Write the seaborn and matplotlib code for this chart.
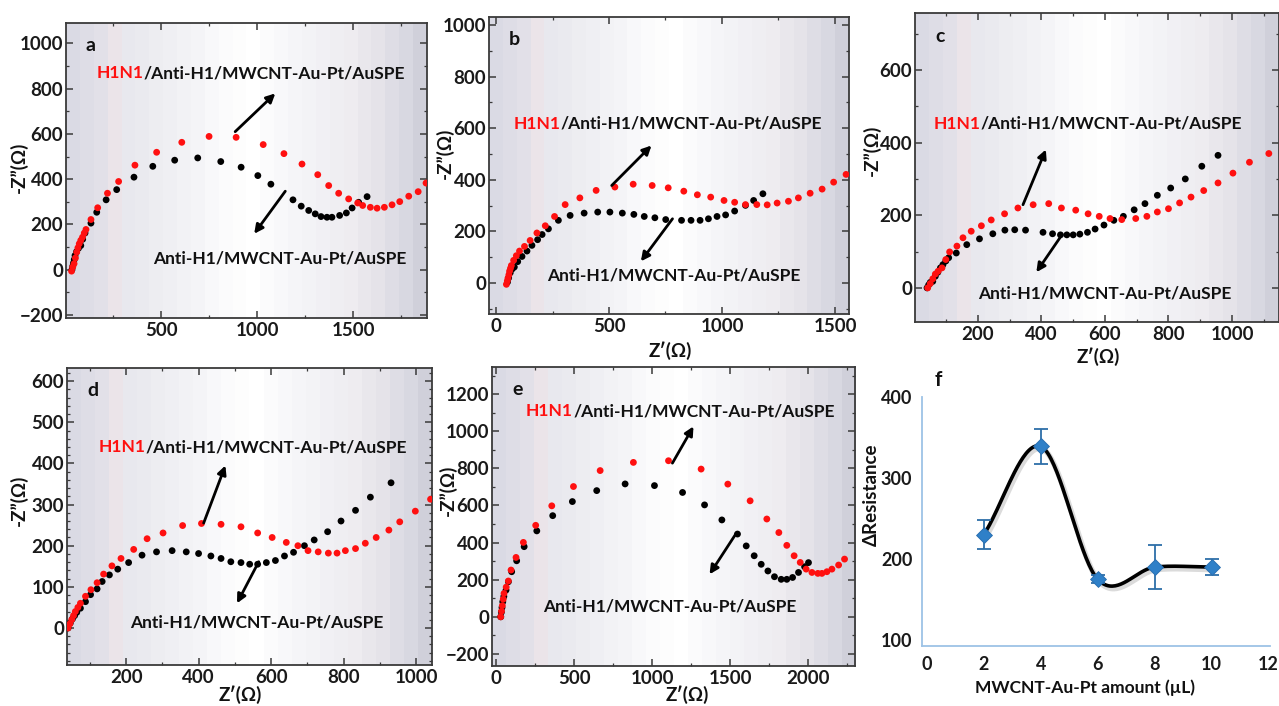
import numpy as np
import matplotlib
matplotlib.use("Agg")
import matplotlib.pyplot as plt
import matplotlib.patheffects as pe
from matplotlib.ticker import MultipleLocator, AutoMinorLocator
import seaborn as sns

# ---------------- data ----------------
# (a) 2 uL MWCNT-Au-Pt
a_h1n1_x = [34, 40, 47, 54, 61, 67, 74, 82, 91, 100, 109, 135, 170, 221, 279, 364, 477, 608, 750, 891,
            1032, 1140, 1234, 1316, 1373, 1425, 1477, 1524, 1550, 1590, 1625, 1663, 1703, 1743, 1790, 1839, 1880]
a_h1n1_y = [-6, 12, 27, 52, 78, 97, 115, 130, 144, 162, 178, 222, 274, 338, 390, 462, 519, 563, 589, 585,
            553, 513, 467, 420, 372, 338, 313, 295, 284, 276, 272, 276, 287, 301, 325, 345, 383]
a_anti_x = [36, 40, 44, 48, 52, 60, 70, 82, 92, 104, 135, 165, 214, 269, 359, 457, 571, 691, 811, 917,
            1004, 1072, 1187, 1230, 1269, 1303, 1333, 1364, 1390, 1430, 1465, 1495, 1529, 1573]
a_anti_y = [0, 15, 30, 45, 63, 80, 95, 107, 135, 162, 206, 254, 309, 354, 409, 457, 484, 494, 478, 453,
            416, 378, 309, 281, 262, 247, 235, 232, 232, 240, 251, 273, 298, 323]

# (b) 4 uL
b_h1n1_x = [46, 50, 53, 57, 60, 64, 68, 78, 90, 104, 126, 151, 181, 218, 259, 306, 371, 443, 526, 607,
            691, 762, 831, 891, 950, 1009, 1056, 1104, 1154, 1200, 1244, 1294, 1338, 1390, 1443, 1494, 1549]
b_h1n1_y = [-5, 8, 19, 32, 46, 57, 68, 88, 106, 124, 142, 165, 194, 222, 258, 304, 330, 359, 372, 383,
            378, 369, 356, 342, 333, 320, 313, 304, 304, 303, 310, 317, 330, 348, 364, 391, 421]
b_anti_x = [51, 56, 63, 72, 81, 96, 115, 137, 159, 184, 204, 232, 276, 328, 390, 450, 504, 559, 610, 656,
            703, 751, 821, 863, 903, 940, 978, 1016, 1056, 1104, 1140, 1181]
b_anti_y = [4, 20, 40, 55, 62, 83, 103, 124, 146, 168, 188, 210, 243, 262, 271, 275, 275, 271, 266, 258,
            253, 246, 243, 243, 243, 249, 258, 264, 279, 301, 320, 346]

# (c) 6 uL
c_h1n1_x = [42, 50, 58, 66, 75, 87, 99, 111, 134, 153, 179, 211, 242, 284, 326, 374, 423, 463, 508, 547,
            582, 616, 653, 697, 732, 765, 800, 835, 871, 911, 956, 1003, 1055, 1116]
c_h1n1_y = [0, 12, 25, 38, 46, 55, 78, 99, 115, 138, 156, 171, 187, 204, 220, 229, 232, 220, 214, 204,
            197, 191, 188, 191, 197, 209, 218, 234, 250, 268, 289, 316, 346, 370]
c_anti_x = [40, 45, 50, 58, 66, 74, 82, 90, 99, 108, 132, 165, 205, 247, 285, 316, 350, 405, 435, 460,
            480, 500, 521, 545, 569, 597, 628, 658, 692, 726, 765, 807, 853, 905, 956]
c_anti_y = [0, 8, 15, 18, 32, 43, 55, 64, 74, 83, 96, 119, 135, 149, 159, 160, 159, 153, 149, 146,
            146, 146, 148, 153, 162, 173, 186, 197, 215, 232, 255, 275, 300, 335, 365]

# (d) 8 uL
d_h1n1_x = [40, 45, 50, 55, 60, 67, 74, 88, 103, 120, 138, 161, 186, 221, 258, 302, 356, 408, 462, 517,
            563, 603, 642, 674, 702, 730, 758, 782, 805, 833, 860, 890, 925, 955, 998, 1040]
d_h1n1_y = [0, 10, 20, 30, 40, 50, 60, 77, 93, 110, 131, 151, 169, 191, 217, 231, 249, 254, 252, 246,
            231, 220, 208, 200, 188, 185, 182, 182, 188, 193, 206, 220, 238, 258, 284, 313]
d_anti_x = [40, 46, 52, 58, 64, 74, 88, 102, 120, 134, 154, 177, 207, 244, 284, 327, 366, 400, 434, 462,
            489, 517, 541, 563, 587, 612, 637, 662, 692, 719, 756, 793, 833, 874, 931]
d_anti_y = [0, 12, 22, 30, 38, 48, 64, 81, 95, 113, 129, 143, 159, 177, 185, 188, 185, 181, 175, 169,
            161, 159, 155, 155, 159, 164, 175, 184, 200, 214, 234, 260, 286, 318, 353]

# (e) 10 uL
e_h1n1_x = [30, 35, 40, 46, 51, 65, 79, 96, 128, 175, 254, 357, 496, 667, 880, 1105, 1314, 1485, 1628,
            1735, 1812, 1863, 1910, 1949, 1987, 2024, 2062, 2088, 2120, 2152, 2195, 2233]
e_h1n1_y = [0, 30, 60, 95, 126, 160, 193, 252, 320, 401, 493, 598, 702, 788, 832, 841, 796, 715, 625,
            527, 454, 385, 329, 293, 257, 239, 234, 234, 243, 257, 279, 311]
e_anti_x = [30, 34, 38, 43, 50, 64, 79, 100, 132, 180, 261, 363, 489, 645, 827, 1015, 1195, 1336, 1447,
            1547, 1603, 1654, 1699, 1742, 1784, 1827, 1863, 1900, 1938, 1977, 2002]
e_anti_y = [0, 25, 50, 81, 110, 144, 189, 243, 302, 378, 463, 545, 621, 680, 716, 707, 670, 603, 522,
            446, 382, 329, 283, 247, 216, 202, 202, 212, 239, 270, 292]

# (f) response vs. modifier amount
amount_ul = [2, 4, 6, 8, 10]
delta_r = [230, 339, 175, 190, 190]
delta_r_err = [18, 22, 5, 27, 10]

LBL_H1N1 = "H1N1"
LBL_REST = "/Anti-H1/MWCNT-Au-Pt/AuSPE"
LBL_ANTI = "Anti-H1/MWCNT-Au-Pt/AuSPE"
ZIM = "-Z\u201d(\u03a9)"
ZRE = "Z\u2032(\u03a9)"

# ---------------- style ----------------
sns.set_theme(style="white")
plt.rcParams['font.family'] = ['Lato', 'DejaVu Sans']
plt.rcParams['font.weight'] = 'bold'

W, H = 1279, 706
fig = plt.figure(figsize=(W / 100, H / 100), dpi=100)


def px_axes(x0, y0, x1, y1):
    return fig.add_axes([x0 / W, 1 - y1 / H, (x1 - x0) / W, (y1 - y0) / H])


# column gradient used behind the impedance panels
_stops = np.array([0.00, 0.08, 0.11, 0.16, 0.25, 0.35, 0.45, 0.52, 0.60, 0.70, 0.80, 0.88, 0.95, 1.00])
_rgb = np.array([
    [218, 218, 228], [226, 224, 232], [236, 228, 232], [232, 232, 238], [238, 238, 242],
    [244, 244, 247], [252, 252, 253], [255, 255, 255], [248, 248, 250], [242, 242, 245],
    [238, 236, 240], [229, 227, 233], [218, 218, 227], [208, 208, 218]]) / 255.0
_cols = np.linspace(0, 1, 26)
_grad = np.stack([np.interp(_cols, _stops, _rgb[:, k]) for k in range(3)], axis=-1)[None, :, :]

TICK_FS = 13.5
NOTE_FS = 12.5


def nyquist(ax, xr, yr, xanti, yanti, xlim, ylim, xmaj, ymaj, yminor, letter):
    ax.imshow(_grad, extent=[0, 1, 0, 1], transform=ax.transAxes, aspect='auto',
              interpolation='nearest', zorder=0)
    sns.scatterplot(x=xanti, y=yanti, color='black', s=24, edgecolor='none', ax=ax, zorder=3)
    sns.scatterplot(x=xr, y=yr, color='#ff1010', s=24, edgecolor='none', ax=ax, zorder=3)
    ax.set_xlim(*xlim)
    ax.set_ylim(*ylim)
    ax.set_xlabel('')
    ax.set_ylabel('')
    ax.xaxis.set_major_locator(MultipleLocator(xmaj))
    ax.yaxis.set_major_locator(MultipleLocator(ymaj))
    ax.xaxis.set_minor_locator(AutoMinorLocator(2))
    ax.yaxis.set_minor_locator(AutoMinorLocator(yminor))
    ax.tick_params(which='both', direction='in', top=True, right=True, bottom=True, left=True,
                   color='#3a3a3a')
    ax.tick_params(which='major', length=5, width=1.1, labelsize=TICK_FS, pad=2,
                   labelcolor='#1a1a1a')
    ax.tick_params(which='minor', length=2.5, width=0.9)
    ax.tick_params(axis='x', which='major', pad=3)
    for lab in ax.get_xticklabels() + ax.get_yticklabels():
        lab.set_fontweight('bold')
    for s in ax.spines.values():
        s.set_visible(True)
        s.set_color('#3a3a3a')
        s.set_linewidth(1.3)
    ax.grid(False)
    ax.text(0.055, 0.925, letter, transform=ax.transAxes, fontsize=14, fontweight='bold',
            ha='left', va='center', color='#111111')


def labels(ax, h1n1_xy, anti_xy, up_arrow, down_arrow, fs=NOTE_FS):
    t1 = ax.text(h1n1_xy[0], h1n1_xy[1], LBL_H1N1, color='#ff1010', fontsize=fs,
                 fontweight='bold', ha='left', va='center', zorder=5)
    ax.annotate(LBL_REST, xy=(1, 0), xycoords=t1, ha='left', va='bottom', fontsize=fs,
                fontweight='bold', color='#111111', zorder=5)
    ax.text(anti_xy[0], anti_xy[1], LBL_ANTI, color='#111111', fontsize=fs,
            fontweight='bold', ha='left', va='center', zorder=5)
    for tail, head in (up_arrow, down_arrow):
        ax.annotate('', xy=head, xytext=tail, zorder=4,
                    arrowprops=dict(arrowstyle='-|>', color='black', lw=2.0,
                                    mutation_scale=13, shrinkA=0, shrinkB=0))


# (a)
ax_a = px_axes(66, 23, 427, 318)
nyquist(ax_a, a_h1n1_x, a_h1n1_y, a_anti_x, a_anti_y, (5, 1885), (-213, 1090), 500, 200, 2, 'a')
labels(ax_a, (164, 867), (460, 48), ((886, 610), (1095, 779)), ((1147, 347), (985, 159)))

# (b)
ax_b = px_axes(489, 17, 849, 314)
nyquist(ax_b, b_h1n1_x, b_h1n1_y, b_anti_x, b_anti_y, (-31, 1562), (-120, 1031), 500, 200, 2, 'b')
labels(ax_b, (78, 617), (225, 30), ((512, 378), (688, 533)), ((781, 249), (641, 84)))

# (c)
ax_c = px_axes(915, 13, 1279, 322)
nyquist(ax_c, c_h1n1_x, c_h1n1_y, c_anti_x, c_anti_y, (2, 1148), (-94, 757), 200, 200, 2, 'c')
labels(ax_c, (60, 452), (200, -16), ((342, 229), (414, 381)), ((463, 144), (384, 43)))

# (d)
ax_d = px_axes(67, 368, 432, 665)
nyquist(ax_d, d_h1n1_x, d_h1n1_y, d_anti_x, d_anti_y, (37, 1044), (-90, 632), 200, 100, 5, 'd')
labels(ax_d, (125, 439), (212, 14), ((414, 255), (474, 395)), ((566, 161), (506, 60)))

# (e)
ax_e = px_axes(492, 367, 855, 666)
nyquist(ax_e, e_h1n1_x, e_h1n1_y, e_anti_x, e_anti_y, (-26, 2300), (-265, 1346), 500, 200, 2, 'e')
labels(ax_e, (192, 1107), (299, 54), ((1130, 828), (1265, 1026)), ((1539, 450), (1368, 229)))


def ftext(px, py, s, rot=0, size=13.5):
    fig.text(px / W, 1 - py / H, s, rotation=rot, ha='center', va='center', fontsize=size,
             fontweight='bold', color='#111111')


for (px, py) in [(19, 167), (445, 153), (872, 150), (19, 500), (448, 490)]:
    ftext(px, py, ZIM, rot=90)
for (px, py) in [(670, 351), (1098, 357), (240, 695), (687, 695)]:
    ftext(px, py, ZRE)

# (f)
ax_f = px_axes(922, 397, 1270, 646)
xs = np.asarray(amount_ul, float)
ys = np.asarray(delta_r, float)
# Catmull-Rom smoothing through the measured points
px_ = np.concatenate([[2 * xs[0] - xs[1]], xs, [2 * xs[-1] - xs[-2]]])
py_ = np.concatenate([[2 * ys[0] - ys[1]], ys, [2 * ys[-1] - ys[-2]]])
cx, cy = [], []
t = np.linspace(0, 1, 40)
for i in range(1, len(px_) - 2):
    p0, p1, p2, p3 = [np.array([px_[j], py_[j]]) for j in (i - 1, i, i + 1, i + 2)]
    m1 = (p2 - p0) / 2
    m2 = (p3 - p1) / 2
    h00 = 2 * t**3 - 3 * t**2 + 1
    h10 = t**3 - 2 * t**2 + t
    h01 = -2 * t**3 + 3 * t**2
    h11 = t**3 - t**2
    seg = (h00[:, None] * p1 + h10[:, None] * m1 + h01[:, None] * p2 + h11[:, None] * m2)
    cx.extend(seg[:, 0])
    cy.extend(seg[:, 1])
ax_f.plot(cx, cy, color='black', lw=2.6, zorder=2, solid_capstyle='round',
          path_effects=[pe.SimpleLineShadow(offset=(1.2, -1.8), shadow_color='#888888', alpha=0.3,
                                            linewidth=4),
                        pe.Normal()])
ax_f.errorbar(amount_ul, delta_r, yerr=delta_r_err, fmt='none', ecolor='#2d6ea8', elinewidth=1.3,
              capsize=5, capthick=1.3, zorder=3)
sns.scatterplot(x=amount_ul, y=delta_r, marker='D', s=65, color='#2f80c8', edgecolor='#2a6fb0',
                ax=ax_f, zorder=4)
ax_f.set_xlim(-0.17, 12.05)
ax_f.set_ylim(92.6, 400)
ax_f.set_xticks([0, 2, 4, 6, 8, 10, 12])
ax_f.set_yticks([100, 200, 300, 400])
ax_f.set_xlabel('')
ax_f.set_ylabel('')
ax_f.set_facecolor('white')
for side in ('top', 'right'):
    ax_f.spines[side].set_visible(False)
for side in ('left', 'bottom'):
    ax_f.spines[side].set_visible(True)
    ax_f.spines[side].set_color('#9dc3e6')
    ax_f.spines[side].set_linewidth(1.3)
ax_f.tick_params(length=0, labelsize=13, pad=7, labelcolor='#1a1a1a')
for lab in ax_f.get_xticklabels() + ax_f.get_yticklabels():
    lab.set_fontweight('bold')
ax_f.grid(False)
ftext(938, 380, 'f', size=15)
ftext(871, 495, '\u0394Resistance', rot=90)
ftext(1085, 688, 'MWCNT-Au-Pt amount (\u00b5L)', size=12.5)

fig.savefig('out.png', dpi=100, facecolor='white')
